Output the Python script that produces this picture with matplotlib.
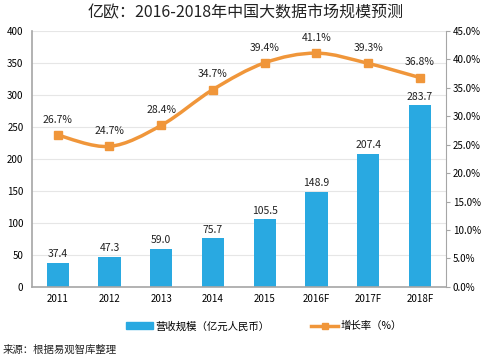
import matplotlib.pyplot as plt
import numpy as np
from matplotlib.path import Path
from matplotlib.patches import PathPatch
from matplotlib.lines import Line2D
from matplotlib.patches import Patch

plt.rcParams['font.family'] = ['Noto Sans CJK SC', 'DejaVu Sans']

years = ['2011', '2012', '2013', '2014', '2015', '2016F', '2017F', '2018F']
revenue = [37.4, 47.3, 59.0, 75.7, 105.5, 148.9, 207.4, 283.7]
growth = [26.7, 24.7, 28.4, 34.7, 39.4, 41.1, 39.3, 36.8]

blue = '#29a9e1'
orange = '#f0963a'
gray = '#a6a6a6'

fig = plt.figure(figsize=[4.82, 3.6], dpi=100)
ax = fig.add_axes([0.066, 0.203, 0.859, 0.711])
ax2 = ax.twinx()

x = np.arange(len(years))
ax.bar(x, revenue, width=0.43, color=blue, zorder=2)
for xi, v in zip(x, revenue):
    ax.text(xi, v + 6, f'{v:.1f}', ha='center', va='bottom', fontsize=7.5, color='#222222')

ax.set_ylim(0, 400)
ax.set_yticks(range(0, 401, 50))
ax.set_xlim(-0.5, len(years) - 0.5)
ax.set_xticks(x)
ax.set_xticklabels(years)
ax.yaxis.grid(True, color='#e6e6e6', lw=0.8, zorder=0)
ax.set_axisbelow(True)
ax.tick_params(axis='y', length=0, labelsize=7, pad=6)
ax.tick_params(axis='x', length=0, labelsize=7, pad=5)
for s in ['top', 'right']:
    ax.spines[s].set_visible(False)
ax.spines['left'].set_color(gray)
ax.spines['bottom'].set_color(gray)
ax.spines['left'].set_linewidth(1.2)
ax.spines['bottom'].set_linewidth(1.2)

# smooth growth curve (Catmull-Rom as bezier path)
g = np.array(growth)
verts = [(x[0], g[0])]
codes = [Path.MOVETO]
for i in range(len(x) - 1):
    p0 = (x[max(i - 1, 0)], g[max(i - 1, 0)])
    p1 = (x[i], g[i])
    p2 = (x[i + 1], g[i + 1])
    p3 = (x[min(i + 2, len(x) - 1)], g[min(i + 2, len(x) - 1)])
    c1 = (p1[0] + (p2[0] - p0[0]) / 6, p1[1] + (p2[1] - p0[1]) / 6)
    c2 = (p2[0] - (p3[0] - p1[0]) / 6, p2[1] - (p3[1] - p1[1]) / 6)
    verts += [c1, c2, p2]
    codes += [Path.CURVE4] * 3
ax2.add_patch(PathPatch(Path(verts, codes), fill=False, edgecolor=orange, lw=2.5, zorder=3))
ax2.plot(x, growth, ls='none', marker='s', ms=6, color=orange, zorder=4)
for xi, v in zip(x, growth):
    ax2.text(xi, v + 1.8, f'{v:.1f}%', ha='center', va='bottom', fontsize=7.5, color='#222222')

ax2.set_ylim(0, 45)
ax2.set_yticks(np.arange(0, 46, 5))
ax2.set_yticklabels([f'{t:.1f}%' for t in np.arange(0, 46, 5)])
ax2.tick_params(axis='y', length=3, color=gray, labelsize=7, pad=2)
for s in ['top', 'left', 'bottom']:
    ax2.spines[s].set_visible(False)
ax2.spines['right'].set_color(gray)

fig.text(0.51, 0.988, '亿欧：2016-2018年中国大数据市场规模预测', ha='center', va='top', fontsize=11.5, color='#222222')

handles = [Patch(color=blue), Line2D([], [], color=orange, lw=2.5, marker='s', ms=4)]
fig.legend(handles, ['营收规模（亿元人民币）', '增长率（%）'], loc='center', bbox_to_anchor=(0.548, 0.094),
           ncol=2, frameon=False, fontsize=7.5, handlelength=2.6, handleheight=0.6, columnspacing=4, handletextpad=0.2)

fig.text(0.006, 0.015, '来源：根据易观智库整理', ha='left', va='bottom', fontsize=7.5, color='#222222')

fig.savefig('out.png', dpi=100)
